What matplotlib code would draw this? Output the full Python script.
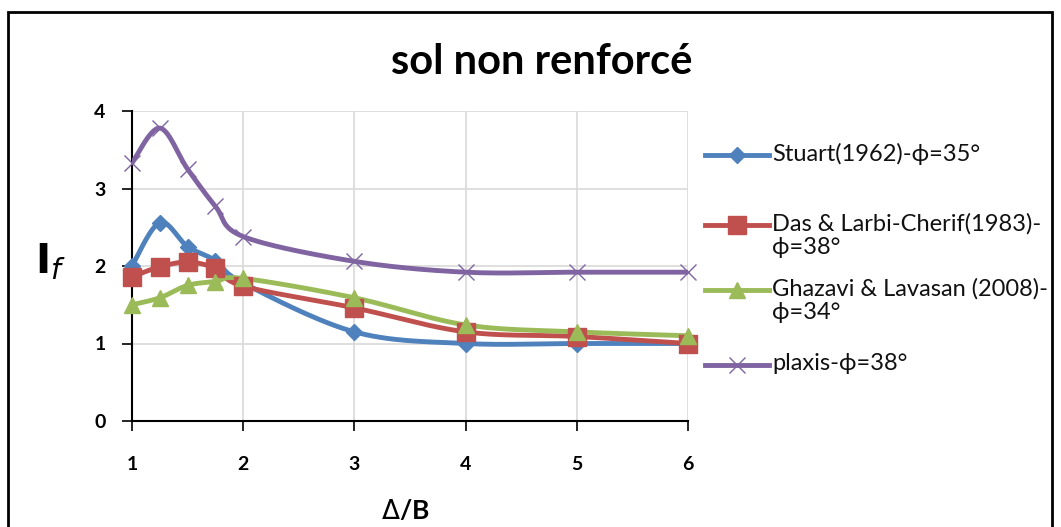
import numpy as np
import matplotlib
matplotlib.use("Agg")
import matplotlib.pyplot as plt
from matplotlib.lines import Line2D

plt.rcParams['font.family'] = ['Lato', 'DejaVu Sans']

# Spacing ratio Δ/B and improvement factor I_f for each source
x_vals = [1, 1.25, 1.5, 1.75, 2, 3, 4, 5, 6]
stuart = [2.0, 2.56, 2.25, 2.07, 1.78, 1.15, 1.0, 1.0, 1.0]
das = [1.86, 1.99, 2.05, 1.97, 1.74, 1.46, 1.15, 1.09, 1.0]
ghazavi = [1.50, 1.59, 1.75, 1.80, 1.84, 1.59, 1.24, 1.15, 1.10]
plaxis = [3.33, 3.78, 3.25, 2.77, 2.38, 2.06, 1.92, 1.92, 1.92]

labels = ["Stuart(1962)-ϕ=35°",
          "Das & Larbi-Cherif(1983)-\nϕ=38°",
          "Ghazavi & Lavasan (2008)-\nϕ=34°",
          "plaxis-ϕ=38°"]
x_ticks = [1, 2, 3, 4, 5, 6]
y_ticks = [0, 1, 2, 3, 4]

colors = ["#4F81BD", "#C0504D", "#9BBB59", "#8064A2"]
markers = ["D", "s", "^", "x"]
msizes = [8, 13, 12, 11]

W, H = 1061, 527


def fx(px):
    return px / W


def fy(py):
    return 1 - py / H


def smooth(xs, ys, n=30):
    """Parametric Catmull-Rom curve through the points."""
    p = np.column_stack([xs, ys]).astype(float)
    p = np.vstack([p[0], p, p[-1]])
    out = []
    for i in range(1, len(p) - 2):
        p0, p1, p2, p3 = p[i - 1], p[i], p[i + 1], p[i + 2]
        t = np.linspace(0, 1, n, endpoint=False)[:, None]
        c = 0.5 * ((2 * p1) + (-p0 + p2) * t + (2 * p0 - 5 * p1 + 4 * p2 - p3) * t ** 2
                   + (-p0 + 3 * p1 - 3 * p2 + p3) * t ** 3)
        out.append(c)
    out.append(p[-2][None, :])
    c = np.vstack(out)
    return c[:, 0], c[:, 1]


fig = plt.figure(figsize=(W / 100, H / 100), dpi=100)
ax = fig.add_axes([fx(132), fy(421), fx(688 - 132), (421 - 111) / H])

series = [stuart, das, ghazavi, plaxis]
for ys, col, mk, ms in zip(series, colors, markers, msizes):
    sx, sy = smooth(x_vals, ys)
    ax.plot(sx, sy, color=col, lw=3.5, solid_capstyle='round', zorder=3)
    ax.plot(x_vals, ys, ls='none', marker=mk, ms=ms, mew=1.0, color=col, mec=col,
            zorder=4, clip_on=False)

ax.set_xlim(1, 6)
ax.set_ylim(0, 4)
ax.set_xticks(x_ticks)
ax.set_yticks(y_ticks)
ax.grid(True, color="#d9d9d9", lw=1.2, zorder=0)
ax.set_axisbelow(True)
for s in ["top", "right"]:
    ax.spines[s].set_visible(False)
for s in ["left", "bottom"]:
    ax.spines[s].set_linewidth(1.5)
    ax.spines[s].set_color("black")
ax.tick_params(axis='both', direction='out', length=7, width=1.2, labelsize=14)
ax.tick_params(axis='x', pad=18)
ax.tick_params(axis='y', pad=12)
for t in ax.get_xticklabels() + ax.get_yticklabels():
    t.set_fontweight('bold')

fig.text(fx(405), fy(510), r"$\mathit{\Delta}$/B", fontsize=19, fontweight='bold',
         ha='center', va='center')
fig.text(fx(50), fy(262), r"$\mathbf{I}_{\mathit{f}}$", fontsize=29,
         ha='center', va='center')
fig.text(fx(542), fy(62), "sol non renforcé", fontsize=30, fontweight='bold',
         ha='center', va='center')

# legend entries, one handle per row at the height of the first text line
leg_rows = [155, 225, 290, 365]
for yy, lab, col, mk, ms in zip(leg_rows, labels, colors, markers, msizes):
    fig.add_artist(Line2D([fx(705), fx(769)], [fy(yy), fy(yy)], color=col, lw=3.5,
                          transform=fig.transFigure))
    fig.add_artist(Line2D([fx(737)], [fy(yy)], ls='none', marker=mk, ms=ms, mew=1.0,
                          color=col, mec=col, transform=fig.transFigure))
    fig.text(fx(772), fy(yy - 12), lab, fontsize=17, ha='left', va='top',
             linespacing=1.15, color="#111111")

# outer chart frame
fig.add_artist(plt.Rectangle((fx(8), -0.05), fx(1052 - 8), fy(12) + 0.05,
                             transform=fig.transFigure, fill=False, ec='black', lw=2))

fig.savefig("out.png", dpi=100)
